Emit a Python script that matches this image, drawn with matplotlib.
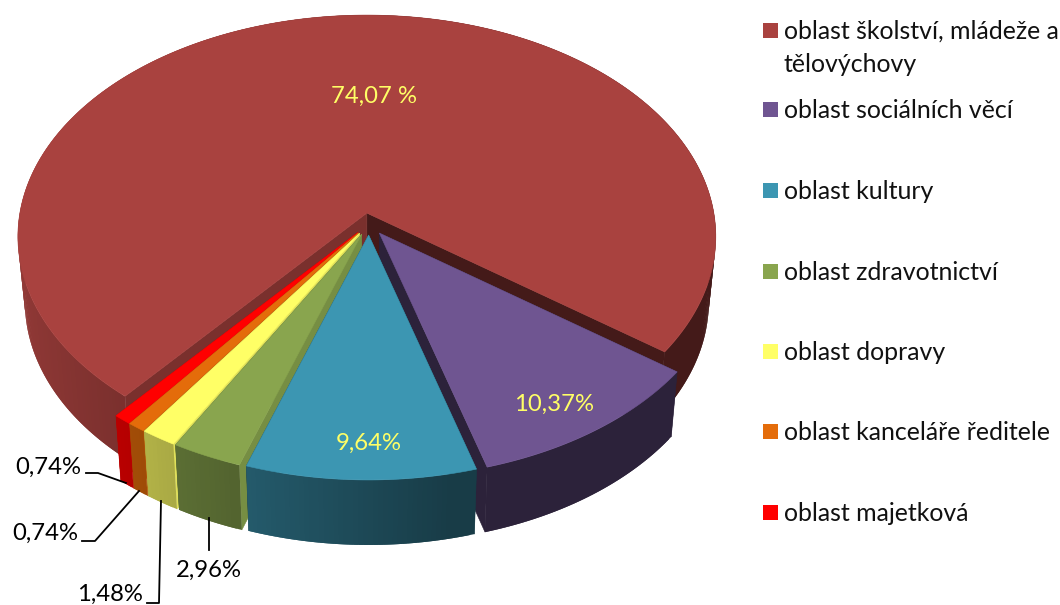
import numpy as np
import matplotlib
matplotlib.use('Agg')
import matplotlib.pyplot as plt
from matplotlib.patches import Polygon, Rectangle

plt.rcParams['font.family'] = ['Lato', 'DejaVu Sans']

legendLabels = ['oblast školství, mládeže a\ntělovýchovy', 'oblast sociálních věcí', 'oblast kultury',
                'oblast zdravotnictví', 'oblast dopravy', 'oblast kanceláře ředitele', 'oblast majetková']
values = [74.07, 10.37, 9.64, 2.96, 1.48, 0.74, 0.74]
valueLabels = ['74,07 %', '10,37%', '9,64%', '2,96%', '1,48%', '0,74%', '0,74%']
colors = ['#a9423f', '#6f5591', '#3c96b2', '#89a54e', '#ffff66', '#e46c0a', '#ff0000']
# wall shade for the two cut faces of a slice (start side, end side)
wallShades = [(0.72, 0.40), (0.40, 0.40), (0.40, 0.40), (0.86, 0.60), (0.88, 0.70), (0.80, 0.70), (0.80, 0.75)]

cx, cy = 369, 224
rx, ry = 347, 219
persp = 0.106
explodeX, explodeY = 18, 11
depth = 65
shrink = 0.98
startAngle = 230.2

fig = plt.figure(figsize=(10.6, 6.05), dpi=100)
ax = fig.add_axes([0, 0, 1, 1])
ax.set_xlim(0, 1060)
ax.set_ylim(605, 0)
ax.axis('off')


def rimPoint(apex, t, lower=False):
    d = 1 + persp*np.sin(t)
    x = rx*np.cos(t)/d
    y = -ry*np.sin(t)/d
    if lower:
        return apex[0] + x*shrink, apex[1] + y + depth
    return apex[0] + x, apex[1] + y


def shade(color, f):
    return tuple(c*f for c in matplotlib.colors.to_rgb(color))


def sideShade(t):
    u = np.cos(t)
    return max(0.40, 0.48 - 0.38*u)


def fill(pts, color, z, lw=0.4):
    ax.add_patch(Polygon(pts, closed=True, facecolor=color, edgecolor=color if lw else 'none', linewidth=lw, zorder=z))


def drawSlice(i, a0, a1, z):
    mid = (a0 + a1)/2
    apex = (cx + explodeX*np.cos(mid), cy - explodeY*np.sin(mid))
    apexLow = (apex[0], apex[1] + depth)
    ts = np.linspace(a0, a1, max(8, int(abs(a1 - a0)*80)))
    color = colors[i]
    # cut faces, the hidden one first
    faces = list(zip((a0, a1), wallShades[i]))
    if np.cos(mid) < 0:
        faces.reverse()
    for t, f in faces:
        fill([apex, rimPoint(apex, t), rimPoint(apex, t, True), apexLow], shade(color, f), z)
    # outer face, split up so the light can change along it; each piece runs
    # on under the next one so no seams show
    for k in range(len(ts) - 1):
        t0, t1 = ts[k], ts[min(k + 2, len(ts) - 1)]
        f = sideShade((ts[k] + ts[k + 1])/2)
        fill([rimPoint(apex, t0), rimPoint(apex, t1), rimPoint(apex, t1, True), rimPoint(apex, t0, True)],
             shade(color, f), z + 0.1, lw=0)
    # top
    fill([apex] + [rimPoint(apex, t) for t in ts], color, z + 0.2)


# slices run clockwise from the start angle
angles = [np.radians(startAngle)]
for v in values:
    angles.append(angles[-1] - np.radians(v/sum(values)*360))

# back to front
drawOrder = [0, 6, 5, 4, 3, 1, 2]
for z, i in enumerate(drawOrder):
    drawSlice(i, angles[i], angles[i + 1], z + 1)

labelColor = '#ffff66'
ax.text(374, 96, valueLabels[0], color=labelColor, fontsize=17.2, ha='center', va='center', zorder=20)
ax.text(554, 404, valueLabels[1], color=labelColor, fontsize=17.2, ha='center', va='center', zorder=20)
ax.text(369, 443, valueLabels[2], color=labelColor, fontsize=17.2, ha='center', va='center', zorder=20)

ax.text(209, 570, valueLabels[3], color='black', fontsize=17.2, ha='center', va='center', zorder=20)
ax.text(110, 594, valueLabels[4], color='black', fontsize=17.2, ha='center', va='center', zorder=20)
ax.text(45, 533, valueLabels[5], color='black', fontsize=17.2, ha='center', va='center', zorder=20)
ax.text(48, 467, valueLabels[6], color='black', fontsize=17.2, ha='center', va='center', zorder=20)

# leader lines
ax.plot([209, 209], [550, 518], color='black', lw=1.3, zorder=19)
ax.plot([147, 159, 161], [603, 603, 501], color='black', lw=1.3, zorder=19)
ax.plot([82, 95, 139], [541, 541, 491], color='black', lw=1.3, zorder=19)
ax.plot([86, 98, 126], [473, 473, 483], color='black', lw=1.3, zorder=19)

# legend
legendY = [31, 110, 191, 272, 352, 432, 513]
for i, label in enumerate(legendLabels):
    y = legendY[i]
    ax.add_patch(Rectangle((763, y - 8), 15, 15, facecolor=colors[i], edgecolor='none', zorder=20))
    ax.text(784, y - 11, label, color='#111111', fontsize=17.9, ha='left', va='top', linespacing=1.5, zorder=20)

fig.savefig('out.png', dpi=100)
